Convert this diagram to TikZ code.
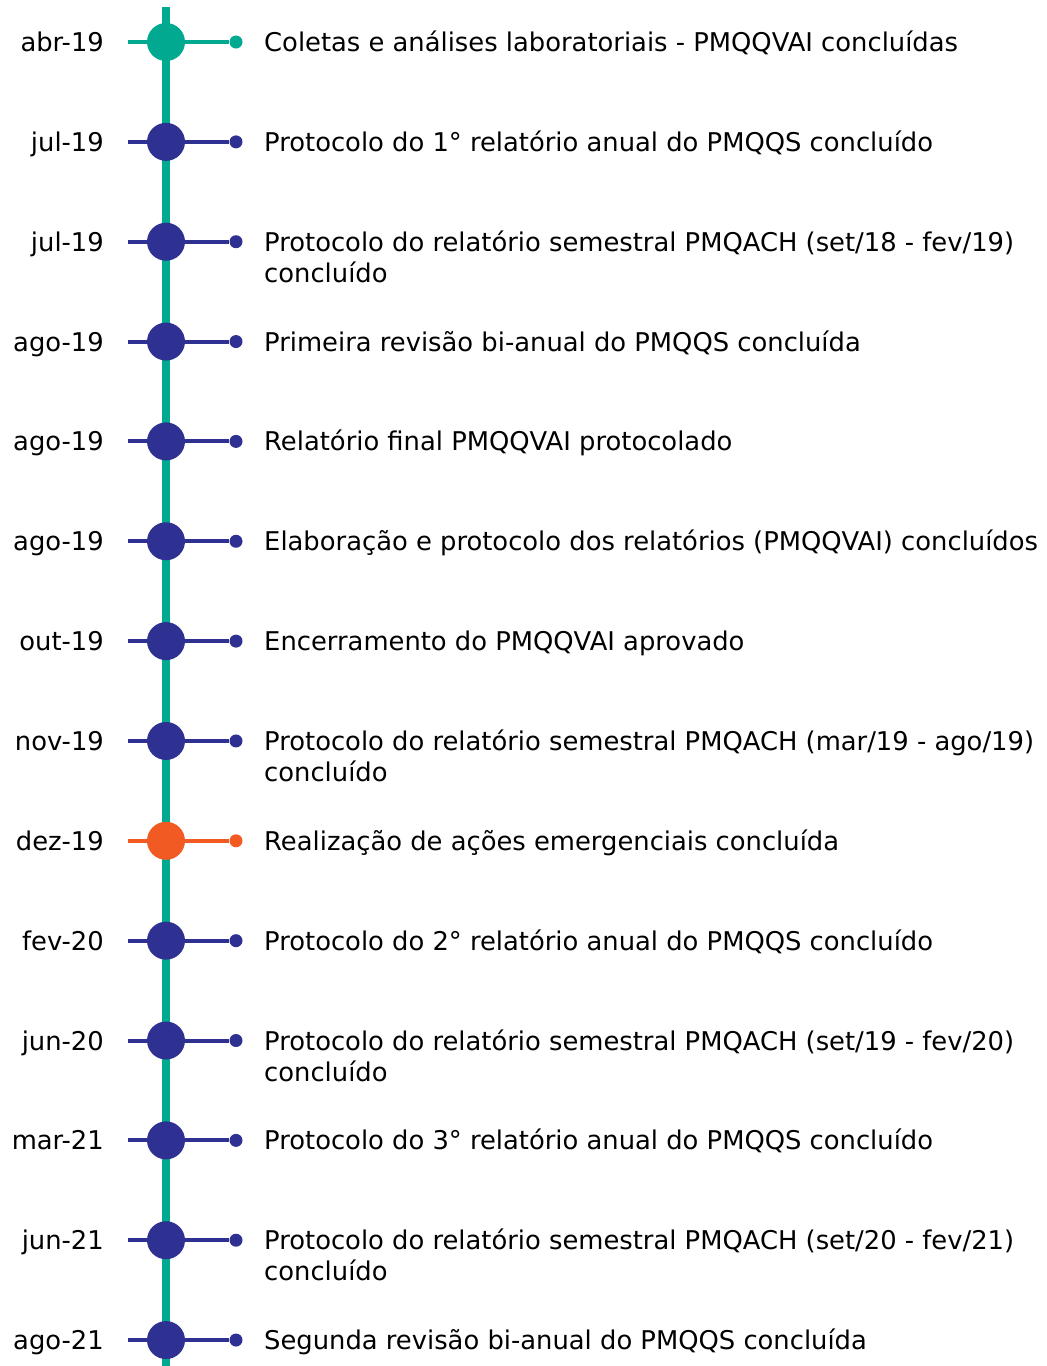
\documentclass[tikz,border=0pt]{standalone}
\usepackage{fontspec}
\setmainfont{DejaVu Sans}
\usetikzlibrary{positioning}
\definecolor{mygreen}{RGB}{0,169,143}
\definecolor{myblue}{RGB}{46,49,146}
\definecolor{myorange}{RGB}{241,90,34}

\begin{document}
\begin{tikzpicture}[x=1pt,y=-1pt,font=\fontsize{25.8}{31}\selectfont,
  bigdot/.style={circle,fill=#1,inner sep=0pt,minimum size=38pt},
  smalldot/.style={circle,fill=#1,inner sep=0pt,minimum size=13pt},
  stem/.style={#1,line width=4pt},
  datelbl/.style={anchor=base east,inner sep=0pt},
  eventlbl/.style={anchor=base west,inner sep=0pt}]
\useasboundingbox (0,0) rectangle (1047,1366);
\coordinate (top) at (166,7);
\coordinate (bottom) at (166,1366);
\draw[mygreen,line width=8.5pt] (top) -- (bottom);
% one row per milestone: number / date / colour / first line / second line
\foreach \i/\d/\c/\t/\u in {
  1/abr-19/mygreen/{Coletas e análises laboratoriais - PMQQVAI concluídas}/{},
  2/jul-19/myblue/{Protocolo do 1° relatório anual do PMQQS concluído}/{},
  3/jul-19/myblue/{Protocolo do relatório semestral PMQACH (set/18 - fev/19)}/{concluído},
  4/ago-19/myblue/{Primeira revisão bi-anual do PMQQS concluída}/{},
  5/ago-19/myblue/{Relatório final PMQQVAI protocolado}/{},
  6/ago-19/myblue/{Elaboração e protocolo dos relatórios (PMQQVAI) concluídos}/{},
  7/out-19/myblue/{Encerramento do PMQQVAI aprovado}/{},
  8/nov-19/myblue/{Protocolo do relatório semestral PMQACH (mar/19 - ago/19)}/{concluído},
  9/dez-19/myorange/{Realização de ações emergenciais concluída}/{},
  10/fev-20/myblue/{Protocolo do 2° relatório anual do PMQQS concluído}/{},
  11/jun-20/myblue/{Protocolo do relatório semestral PMQACH (set/19 - fev/20)}/{concluído},
  12/mar-21/myblue/{Protocolo do 3° relatório anual do PMQQS concluído}/{},
  13/jun-21/myblue/{Protocolo do relatório semestral PMQACH (set/20 - fev/21)}/{concluído},
  14/ago-21/myblue/{Segunda revisão bi-anual do PMQQS concluída}/{}} {
  \pgfmathsetmacro\y{42+(\i-1)*99.85}
  \coordinate (l\i) at (128,\y);
  \node[smalldot=\c] (s\i) at (236,\y) {};
  \draw[stem=\c] (l\i) -- (s\i);
  \node[bigdot=\c] (b\i) at (166,\y) {};
  \node[datelbl] (d\i) at (104,\y+9.5) {\d};
  \node[eventlbl] (e\i) at (264,\y+9.5) {\vtop{\hbox{\t}\hbox{\u}}};
}
\end{tikzpicture}
\end{document}
